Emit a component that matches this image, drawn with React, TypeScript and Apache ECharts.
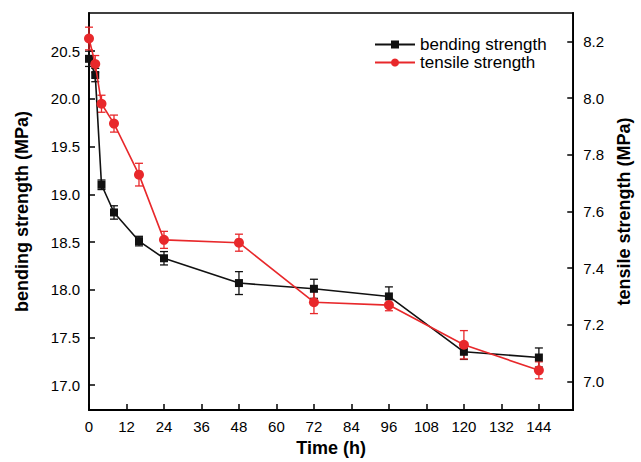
import React, { useEffect, useRef } from "react";
import * as echarts from "echarts";

const timeH = [0, 2, 4, 8, 16, 24, 48, 72, 96, 120, 144];
const bending = [20.42, 20.25, 19.1, 18.81, 18.51, 18.33, 18.07, 18.01, 17.93, 17.35, 17.29];
const bendingErr = [0.08, 0.07, 0.05, 0.07, 0.05, 0.07, 0.12, 0.1, 0.1, 0.08, 0.1];
const tensile = [8.21, 8.12, 7.98, 7.91, 7.73, 7.5, 7.49, 7.28, 7.27, 7.13, 7.04];
const tensileErr = [0.04, 0.03, 0.03, 0.03, 0.04, 0.03, 0.03, 0.04, 0.02, 0.05, 0.03];
const xTicks = [0, 12, 24, 36, 48, 60, 72, 84, 96, 108, 120, 132, 144];
const leftTicks = [17.0, 17.5, 18.0, 18.5, 19.0, 19.5, 20.0, 20.5];
const rightTicks = [7.0, 7.2, 7.4, 7.6, 7.8, 8.0, 8.2];

const BLACK = "#111111";
const RED = "#e8282b";
const FONT = "Arial, 'Liberation Sans', sans-serif";

function errorBars(color: string) {
  return (params: any, api: any) => {
    const x = api.value(0);
    const lo = api.coord([x, api.value(1)]);
    const hi = api.coord([x, api.value(2)]);
    const w = 4;
    const style = { stroke: color, lineWidth: 1.3 };
    return {
      type: "group",
      children: [
        { type: "line", shape: { x1: lo[0], y1: lo[1], x2: hi[0], y2: hi[1] }, style },
        { type: "line", shape: { x1: lo[0] - w, y1: lo[1], x2: lo[0] + w, y2: lo[1] }, style },
        { type: "line", shape: { x1: hi[0] - w, y1: hi[1], x2: hi[0] + w, y2: hi[1] }, style },
      ],
    };
  };
}

export default function App() {
  const ref = useRef<HTMLDivElement>(null);
  useEffect(() => {
    if (!ref.current) return;
    const chart = echarts.init(ref.current, undefined, { renderer: "svg" });
    const axisLabel = { color: "#000", fontSize: 15, fontFamily: FONT };
    const nameStyle = { color: "#000", fontSize: 18, fontWeight: "bold" as const, fontFamily: FONT };
    chart.setOption({
      animation: false,
      backgroundColor: "#fff",
      grid: { left: 89, right: 60, top: 13, bottom: 51, show: true, borderColor: "#000", borderWidth: 1.5, backgroundColor: "transparent" },
      legend: {
        orient: "vertical",
        left: 369,
        top: 31,
        itemWidth: 40,
        itemHeight: 10,
        itemGap: 1,
        textStyle: { color: "#000", fontSize: 17, fontFamily: FONT },
        data: ["bending strength", "tensile strength"],
      },
      xAxis: {
        type: "value",
        min: 0,
        max: 155,
        name: "Time (h)",
        nameLocation: "middle",
        nameGap: 29,
        nameTextStyle: nameStyle,
        axisLine: { show: true, lineStyle: { color: "#000", width: 1.8 } },
        axisTick: { show: true, inside: true, length: 6, lineStyle: { color: "#000", width: 1.5 }, customValues: xTicks },
        axisLabel: { ...axisLabel, margin: 9, customValues: xTicks },
        splitLine: { show: false },
      },
      yAxis: [
        {
          type: "value",
          min: 16.74,
          max: 20.9,
          name: "bending strength (MPa)",
          nameLocation: "middle",
          nameGap: 58,
          nameTextStyle: nameStyle,
          axisLine: { show: true, lineStyle: { color: "#000", width: 1.8 } },
          axisTick: { show: true, inside: true, length: 6, lineStyle: { color: "#000", width: 1.5 }, customValues: leftTicks },
          axisLabel: { ...axisLabel, margin: 9, customValues: leftTicks, formatter: (v: number) => v.toFixed(1) },
          splitLine: { show: false },
        },
        {
          type: "value",
          min: 6.9,
          max: 8.3,
          position: "right",
          name: "tensile strength (MPa)",
          nameLocation: "middle",
          nameGap: 40,
          nameTextStyle: nameStyle,
          axisLine: { show: true, lineStyle: { color: "#000", width: 1.8 } },
          axisTick: { show: true, inside: true, length: 6, lineStyle: { color: "#000", width: 1.5 }, customValues: rightTicks },
          axisLabel: { ...axisLabel, margin: 10, customValues: rightTicks, formatter: (v: number) => v.toFixed(1) },
          splitLine: { show: false },
        },
      ],
      series: [
        {
          type: "custom",
          name: "bendErr",
          yAxisIndex: 0,
          renderItem: errorBars(BLACK),
          encode: { x: 0, y: [1, 2] },
          data: timeH.map((t, i) => [t, bending[i] - bendingErr[i], bending[i] + bendingErr[i]]),
          z: 3,
          clip: false,
        },
        {
          type: "custom",
          name: "tensErr",
          yAxisIndex: 1,
          renderItem: errorBars(RED),
          encode: { x: 0, y: [1, 2] },
          data: timeH.map((t, i) => [t, tensile[i] - tensileErr[i], tensile[i] + tensileErr[i]]),
          z: 3,
          clip: false,
        },
        {
          type: "line",
          name: "bending strength",
          yAxisIndex: 0,
          data: timeH.map((t, i) => [t, bending[i]]),
          symbol: "rect",
          symbolSize: 8,
          color: BLACK,
          lineStyle: { color: BLACK, width: 1.6 },
          itemStyle: { color: BLACK },
          clip: false,
          z: 4,
        },
        {
          type: "line",
          name: "tensile strength",
          yAxisIndex: 1,
          data: timeH.map((t, i) => [t, tensile[i]]),
          symbol: "circle",
          symbolSize: 10,
          color: RED,
          lineStyle: { color: RED, width: 1.6 },
          itemStyle: { color: RED },
          clip: false,
          z: 5,
        },
      ],
    });
    return () => chart.dispose();
  }, []);
  return <div ref={ref} style={{ width: 641, height: 462, position: "absolute", left: 0, top: 0 }} />;
}
